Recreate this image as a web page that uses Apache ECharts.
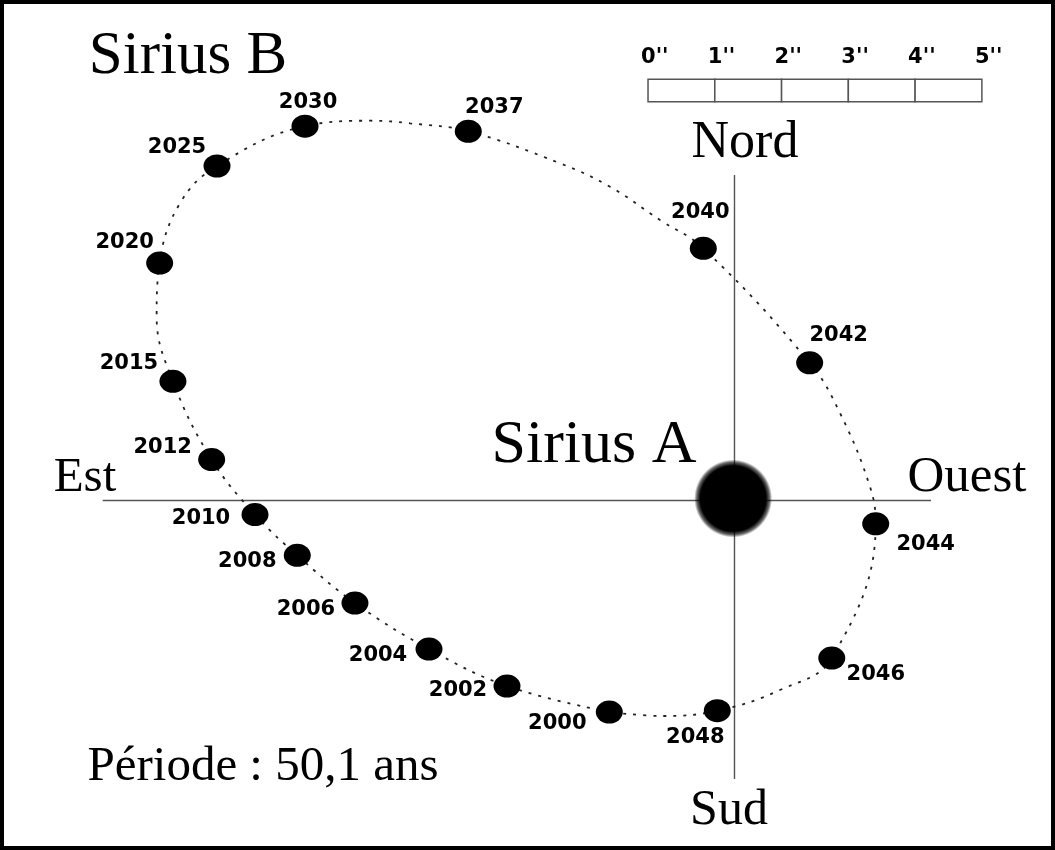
<!DOCTYPE html>
<html><head><meta charset="utf-8">
<script src="https://cdn.jsdelivr.net/npm/echarts@6/dist/echarts.min.js"></script>
<style>html,body{margin:0;padding:0;background:#fff}#chart{width:1055px;height:850px}</style>
</head><body><div id="chart"></div>
<script>
// Sirius B positions relative to Sirius A, in arcseconds (x: + towards Ouest, y: + towards Nord)
const years   = [2000, 2002, 2004, 2006, 2008, 2010, 2012, 2015, 2020, 2025, 2030, 2037, 2040, 2042, 2044, 2046, 2048];
const offsetX = [-1.875, -3.407, -4.575, -5.684, -6.548, -7.181, -7.830, -8.410, -8.609, -7.750, -6.432, -3.987, -0.467, 1.126, 2.115, 1.457, -0.258];
const offsetY = [-3.168, -2.778, -2.224, -1.535, -0.821, -0.210, 0.614, 1.785, 3.557, 5.010, 5.606, 5.529, 3.777, 2.062, -0.349, -2.359, -3.148];
// extra points read along the dotted orbit, keyed by the preceding year
const orbitExtraAfter = {
  2015: [[-8.654, 2.753]],
  2020: [[-8.305, 4.451]],
  2030: [[-5.449, 5.688], [-4.860, 5.649]],
  2037: [[-2.613, 5.050], [-1.865, 4.700], [-1.116, 4.201]],
  2042: [[1.580, 1.310], [2.029, 0.207]],
  2046: [[0.681, -2.838]],
  2048: [[-1.071, -3.227]]
};
// cross arms (arcsec)
const armEst = -9.462, armOuest = 2.943, armNord = 4.875, armSud = -4.171;
const siriusA = [-0.02, 0.03];
// scale bar (arcsec)
const scaleTicks = [0, 1, 2, 3, 4, 5];
const scaleLabels = ["0''", "1''", "2''", "3''", "4''", "5''"];
const scaleOriginX = -1.295, scaleTop = 6.308, scaleBottom = 5.973;

// label placement (pixels, layout only)
const labelOffsets = {
  2000: [-52, 11], 2002: [-49, 5], 2004: [-51, 7], 2006: [-49, 7], 2008: [-50, 6],
  2010: [-54, 4], 2012: [-49, -12], 2015: [-44, -18], 2020: [-35, -20], 2025: [-40, -18],
  2030: [3, -24], 2037: [26, -24], 2040: [-3, -36], 2042: [29, -27], 2044: [50, 21],
  2046: [44, 17], 2048: [-22, 27]
};

const orbitLoop = [];
years.forEach((y, i) => {
  orbitLoop.push([offsetX[i], offsetY[i]]);
  (orbitExtraAfter[y] || []).forEach(p => orbitLoop.push(p));
});
orbitLoop.push([offsetX[0], offsetY[0]]);

const pointData = years.map((y, i) => ({
  value: [offsetX[i], offsetY[i], y],
  label: { offset: labelOffsets[y] }
}));

const serif = '"Liberation Serif", "DejaVu Serif", serif';
function txt(text, x, y, size, align) {
  return { type: 'text', x: x, y: y, z: 50,
    style: { text: text, x: 0, y: 0, font: size + 'px ' + serif, fill: '#000',
      textAlign: align, align: align, textVerticalAlign: 'middle', verticalAlign: 'middle' } };
}

const chart = echarts.init(document.getElementById('chart'), null, { renderer: 'canvas' });
chart.setOption({
  backgroundColor: '#fff',
  animation: false,
  grid: { left: 0, right: 0, top: 0, bottom: 0 },
  xAxis: { type: 'value', min: -11.0, max: 4.8, show: false },
  yAxis: { type: 'value', min: -5.234, max: 7.496, show: false },
  graphic: [
    txt('Sirius B', 188, 57, 61, 'center'),
    txt('Sirius A', 594, 446, 62, 'center'),
    txt('Nord', 745, 143, 52, 'center'),
    txt('Sud', 729, 811, 50, 'center'),
    txt('Est', 85, 478, 49, 'center'),
    txt('Ouest', 967, 478, 51, 'center'),
    txt('Période : 50,1 ans', 263, 767, 49, 'center'),
    { type: 'rect', z: 100, shape: { x: 2, y: 2, width: 1051, height: 846 },
      style: { fill: 'rgba(0,0,0,0)', stroke: '#000', lineWidth: 4 } }
  ],
  series: [
    { type: 'line', silent: true, symbol: 'none', z: 1,
      data: [[armEst, 0], [armOuest, 0]],
      lineStyle: { color: '#555', width: 1.4 } },
    { type: 'line', silent: true, symbol: 'none', z: 1,
      data: [[0, armNord], [0, armSud]],
      lineStyle: { color: '#555', width: 1.4 } },
    { type: 'line', silent: true, symbol: 'none', z: 2, smooth: 0.4,
      data: orbitLoop,
      lineStyle: { color: '#222', width: 1.8, type: [3, 7] } },
    { type: 'scatter', silent: true, z: 3,
      data: [siriusA], symbol: 'circle', symbolSize: 78,
      itemStyle: { opacity: 1, color: new echarts.graphic.RadialGradient(0.5, 0.5, 0.5, [
        { offset: 0, color: '#000' }, { offset: 0.84, color: '#000' },
        { offset: 0.93, color: 'rgba(0,0,0,0.6)' }, { offset: 1, color: 'rgba(0,0,0,0)' }]) } },
    { type: 'scatter', silent: true, z: 4,
      data: pointData, symbol: 'circle', symbolSize: [27, 23],
      itemStyle: { color: '#000', opacity: 1 },
      label: { show: true, position: 'inside', formatter: p => String(p.value[2]),
        color: '#000', fontFamily: '"DejaVu Sans", sans-serif', fontWeight: 'bold', fontSize: 21,
        align: 'center', verticalAlign: 'middle' } },
    { type: 'custom', silent: true, coordinateSystem: 'cartesian2d', z: 5,
      data: scaleTicks.map(t => [scaleOriginX + t, scaleTop]),
      renderItem: function (params, api) {
        const t = scaleTicks[params.dataIndex];
        const p0 = api.coord([scaleOriginX + t, scaleTop]);
        const children = [];
        if (t < scaleTicks[scaleTicks.length - 1]) {
          const p1 = api.coord([scaleOriginX + t + 1, scaleBottom]);
          children.push({ type: 'rect',
            shape: { x: p0[0], y: p0[1], width: p1[0] - p0[0], height: p1[1] - p0[1] },
            style: { fill: '#fff', stroke: '#555', lineWidth: 1.5 } });
        }
        children.push({ type: 'text', x: p0[0] - 7, y: p0[1] - 22,
          style: { text: scaleLabels[t], font: 'bold 21px "DejaVu Sans", sans-serif', fill: '#000',
            align: 'left', textAlign: 'left', verticalAlign: 'middle', textVerticalAlign: 'middle' } });
        return { type: 'group', children: children };
      } }
  ]
});
</script></body></html>
